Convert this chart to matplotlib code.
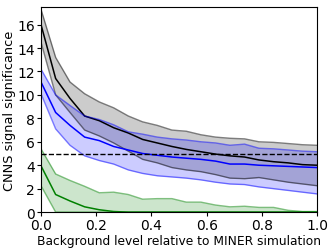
import matplotlib

matplotlib.use("Agg")
import matplotlib.pyplot as plt

# background level relative to MINER simulation (20 grid points)
bkg = [0.000, 0.053, 0.105, 0.158, 0.211, 0.263, 0.316, 0.368, 0.421, 0.474,
       0.526, 0.579, 0.632, 0.684, 0.737, 0.789, 0.842, 0.895, 0.947, 1.000]

# black band
k_hi = [17.3, 13.2, 11.1, 10.1, 9.4, 8.9, 8.2, 7.7, 7.4, 7.0,
        6.9, 6.6, 6.4, 6.3, 6.25, 6.0, 5.95, 5.85, 5.75, 5.7]
k_mid = [16.0, 11.4, 9.7, 8.2, 7.8, 7.2, 6.75, 6.2, 5.9, 5.6,
         5.35, 5.15, 4.95, 4.8, 4.7, 4.45, 4.3, 4.2, 4.05, 4.0]
k_lo = [14.5, 10.0, 8.5, 7.0, 6.5, 5.9, 5.2, 4.5, 4.2, 3.8,
        3.6, 3.45, 3.2, 2.9, 2.85, 2.95, 2.75, 2.55, 2.4, 2.25]

# blue band
b_hi = [12.2, 10.0, 9.1, 8.2, 7.9, 7.45, 6.85, 6.65, 6.4, 6.25,
        6.15, 6.0, 5.9, 5.7, 5.8, 5.45, 5.4, 5.3, 5.2, 5.15]
b_mid = [11.1, 8.5, 7.4, 6.4, 6.1, 5.6, 5.3, 5.0, 4.85, 4.7,
         4.6, 4.5, 4.35, 4.1, 4.1, 4.0, 3.95, 3.9, 3.85, 3.8]
b_lo = [10.1, 7.1, 5.7, 4.8, 4.4, 4.1, 3.6, 3.3, 3.1, 3.0,
        2.9, 2.75, 2.55, 2.4, 2.35, 2.15, 2.0, 1.85, 1.7, 1.55]

# green band
g_hi = [5.4, 3.25, 2.7, 2.2, 1.65, 1.7, 1.5, 1.1, 1.15, 1.15,
        0.85, 0.85, 0.6, 0.45, 0.5, 0.4, 0.4, 0.15, 0.05, 0.05]
g_mid = [3.95, 1.5, 0.95, 0.45, 0.2, 0.05, 0.0, 0.0, 0.0, 0.0,
         0.0, 0.0, 0.0, 0.0, 0.0, 0.0, 0.0, 0.0, 0.0, 0.0]
g_lo = [2.25, 0.0, 0.0, 0.0, 0.0, 0.0, 0.0, 0.0, 0.0, 0.0,
        0.0, 0.0, 0.0, 0.0, 0.0, 0.0, 0.0, 0.0, 0.0, 0.0]

threshold = 5.0

fig = plt.figure(figsize=(3.32, 2.51), dpi=100)
ax = fig.add_axes([0.1235, 0.151, 0.832, 0.817])

for lo, mid, hi, c in [(k_lo, k_mid, k_hi, "k"),
                       (b_lo, b_mid, b_hi, "b"),
                       (g_lo, g_mid, g_hi, "green")]:
    ax.fill_between(bkg, lo, hi, color=c, alpha=0.2, lw=0)
    ax.plot(bkg, lo, color=c, alpha=0.5, lw=1)
    ax.plot(bkg, hi, color=c, alpha=0.5, lw=1)
    ax.plot(bkg, mid, color=c, lw=1.1)

ax.axhline(threshold, color="k", ls="--", lw=1)
ax.set_xlim(0, 1)
ax.set_ylim(0, 17.5)
ax.set_xticks([0, 0.2, 0.4, 0.6, 0.8, 1.0])
ax.set_yticks(range(0, 17, 2))
ax.tick_params(labelsize=10, pad=1.5, length=3)
ax.set_xlabel("Background level relative to MINER simulation", fontsize=8.8, labelpad=1)
ax.set_ylabel("CNNS signal significance", fontsize=9.3, labelpad=1)
fig.savefig("out.png")
